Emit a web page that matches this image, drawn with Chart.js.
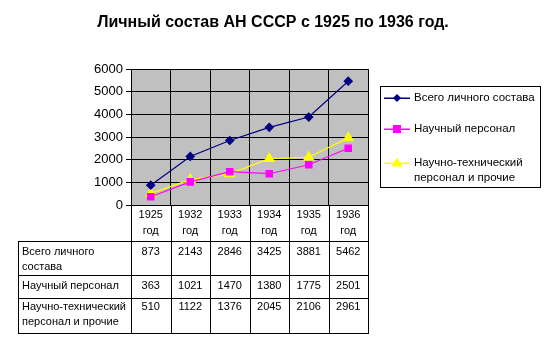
<!DOCTYPE html>
<html>
<head>
<meta charset="utf-8">
<script src="https://cdn.jsdelivr.net/npm/chart.js@4.4.1/dist/chart.umd.min.js"></script>
<style>
  html, body { margin: 0; padding: 0; background: #fff; }
</style>
</head>
<body>
<canvas id="chart" width="547" height="351"></canvas>
<script>
const titleText = "Личный состав АН СССР с 1925 по 1936 год.";
const years = ["1925", "1932", "1933", "1934", "1935", "1936"];
const yearSuffix = "год";
const total = [873, 2143, 2846, 3425, 3881, 5462];
const science = [363, 1021, 1470, 1380, 1775, 2501];
const techOther = [510, 1122, 1376, 2045, 2106, 2961];
const legendLabels = [["Всего личного состава"], ["Научный персонал"], ["Научно-технический", "персонал и прочие"]];
const rowLabels = [["Всего личного", "состава"], ["Научный персонал"], ["Научно-технический", "персонал и прочие"]];

const FONT = "'Liberation Sans', Arial, sans-serif";

const series = [
  { label: legendLabels[0].join(" "), data: total, color: "#000080", style: "rectRot", radius: 4 },
  { label: legendLabels[1].join(" "), data: science, color: "#ff00ff", style: "rect", radius: 4.5 },
  { label: legendLabels[2].join(" "), data: techOther, color: "#ffff00", style: "triangle", radius: 5.5 },
];

// background, title, data table and legend
const extras = {
  id: "extras",
  beforeDraw(chart) {
    const { ctx, chartArea: a } = chart;
    ctx.save();
    ctx.fillStyle = "#c0c0c0";
    ctx.fillRect(a.left, a.top, a.right - a.left, a.bottom - a.top);
    ctx.restore();
  },
  afterDraw(chart) {
    const { ctx, chartArea: a } = chart;
    const x = chart.scales.x;
    const half = (a.right - a.left) / years.length / 2;
    ctx.save();

    // title
    ctx.fillStyle = "#000";
    ctx.font = "bold 16px " + FONT;
    ctx.textAlign = "center";
    ctx.textBaseline = "middle";
    ctx.fillText(titleText, 273, 23);

    // table grid
    const tableLeft = 18;
    const rowY = [a.bottom, 241, 275, 298, 333];
    ctx.strokeStyle = "#000";
    ctx.lineWidth = 1;
    ctx.beginPath();
    for (let i = 0; i <= years.length; i++) {
      const px = Math.round(a.left + i * half * 2) + 0.5;
      ctx.moveTo(px, a.bottom);
      ctx.lineTo(px, rowY[4]);
    }
    for (let r = 1; r < rowY.length; r++) {
      ctx.moveTo(tableLeft, rowY[r] + 0.5);
      ctx.lineTo(a.right + 1, rowY[r] + 0.5);
    }
    ctx.moveTo(tableLeft + 0.5, rowY[1]);
    ctx.lineTo(tableLeft + 0.5, rowY[4]);
    ctx.stroke();

    // header years
    ctx.font = "11px " + FONT;
    ctx.textBaseline = "middle";
    ctx.textAlign = "center";
    years.forEach((yr, i) => {
      const cx = x.getPixelForValue(i);
      ctx.fillText(yr, cx, 215);
      ctx.fillText(yearSuffix, cx, 231);
    });

    // rows
    const rows = [total, science, techOther];
    const rowTextY = [252, 286, 307];
    rows.forEach((vals, r) => {
      ctx.textAlign = "center";
      vals.forEach((v, i) => ctx.fillText(String(v), x.getPixelForValue(i), rowTextY[r]));
      ctx.textAlign = "left";
      rowLabels[r].forEach((line, k) => ctx.fillText(line, tableLeft + 4, rowTextY[r] + k * 15));
    });

    // legend
    ctx.strokeStyle = "#000";
    ctx.lineWidth = 1;
    ctx.strokeRect(380.5, 86.5, 160, 101);
    const legY = [98, 129, 163];
    ctx.font = "11.5px " + FONT;
    series.forEach((s, i) => {
      const ly = legY[i];
      ctx.fillStyle = s.color;
      ctx.fillRect(384, ly - 0.5, 26, 1.5);
      ctx.beginPath();
      if (s.style === "rectRot") {
        ctx.moveTo(397, ly - 4); ctx.lineTo(401, ly); ctx.lineTo(397, ly + 4); ctx.lineTo(393, ly);
      } else if (s.style === "rect") {
        ctx.rect(393, ly - 4, 8, 8);
      } else {
        ctx.moveTo(397, ly - 5.5); ctx.lineTo(402.5, ly + 3.5); ctx.lineTo(391.5, ly + 3.5);
      }
      ctx.closePath();
      ctx.fill();
      ctx.fillStyle = "#000";
      ctx.textAlign = "left";
      ctx.textBaseline = "middle";
      legendLabels[i].forEach((line, k) => ctx.fillText(line, 414, legY[i] + k * 15));
    });
    ctx.restore();
  }
};

new Chart(document.getElementById("chart"), {
  type: "line",
  data: {
    labels: years,
    datasets: series.map(s => ({
      label: s.label,
      data: s.data,
      borderColor: s.color,
      backgroundColor: s.color,
      borderWidth: 1.2,
      pointStyle: s.style,
      pointRadius: s.radius,
      pointBorderColor: s.color,
      pointBackgroundColor: s.color,
      tension: 0,
    })),
  },
  options: {
    responsive: false,
    animation: false,
    layout: { padding: { left: 0, top: 69, right: 179, bottom: 146 } },
    scales: {
      x: {
        offset: true,
        grid: { offset: true, color: "#000", lineWidth: 1, drawTicks: false },
        border: { color: "#000" },
        ticks: { display: false },
        afterFit: (s) => { s.height = 0; },
      },
      y: {
        min: 0,
        max: 6000,
        ticks: {
          stepSize: 1000,
          color: "#000",
          font: { family: FONT, size: 13 },
          padding: 3,
          callback: (v) => String(v),
        },
        grid: { color: "#000", lineWidth: 1, tickLength: 5 },
        border: { color: "#000" },
        afterFit: (s) => { s.width = 131; },
      },
    },
    plugins: {
      legend: { display: false },
      tooltip: { enabled: false },
    },
  },
  plugins: [extras],
});
</script>
</body>
</html>
